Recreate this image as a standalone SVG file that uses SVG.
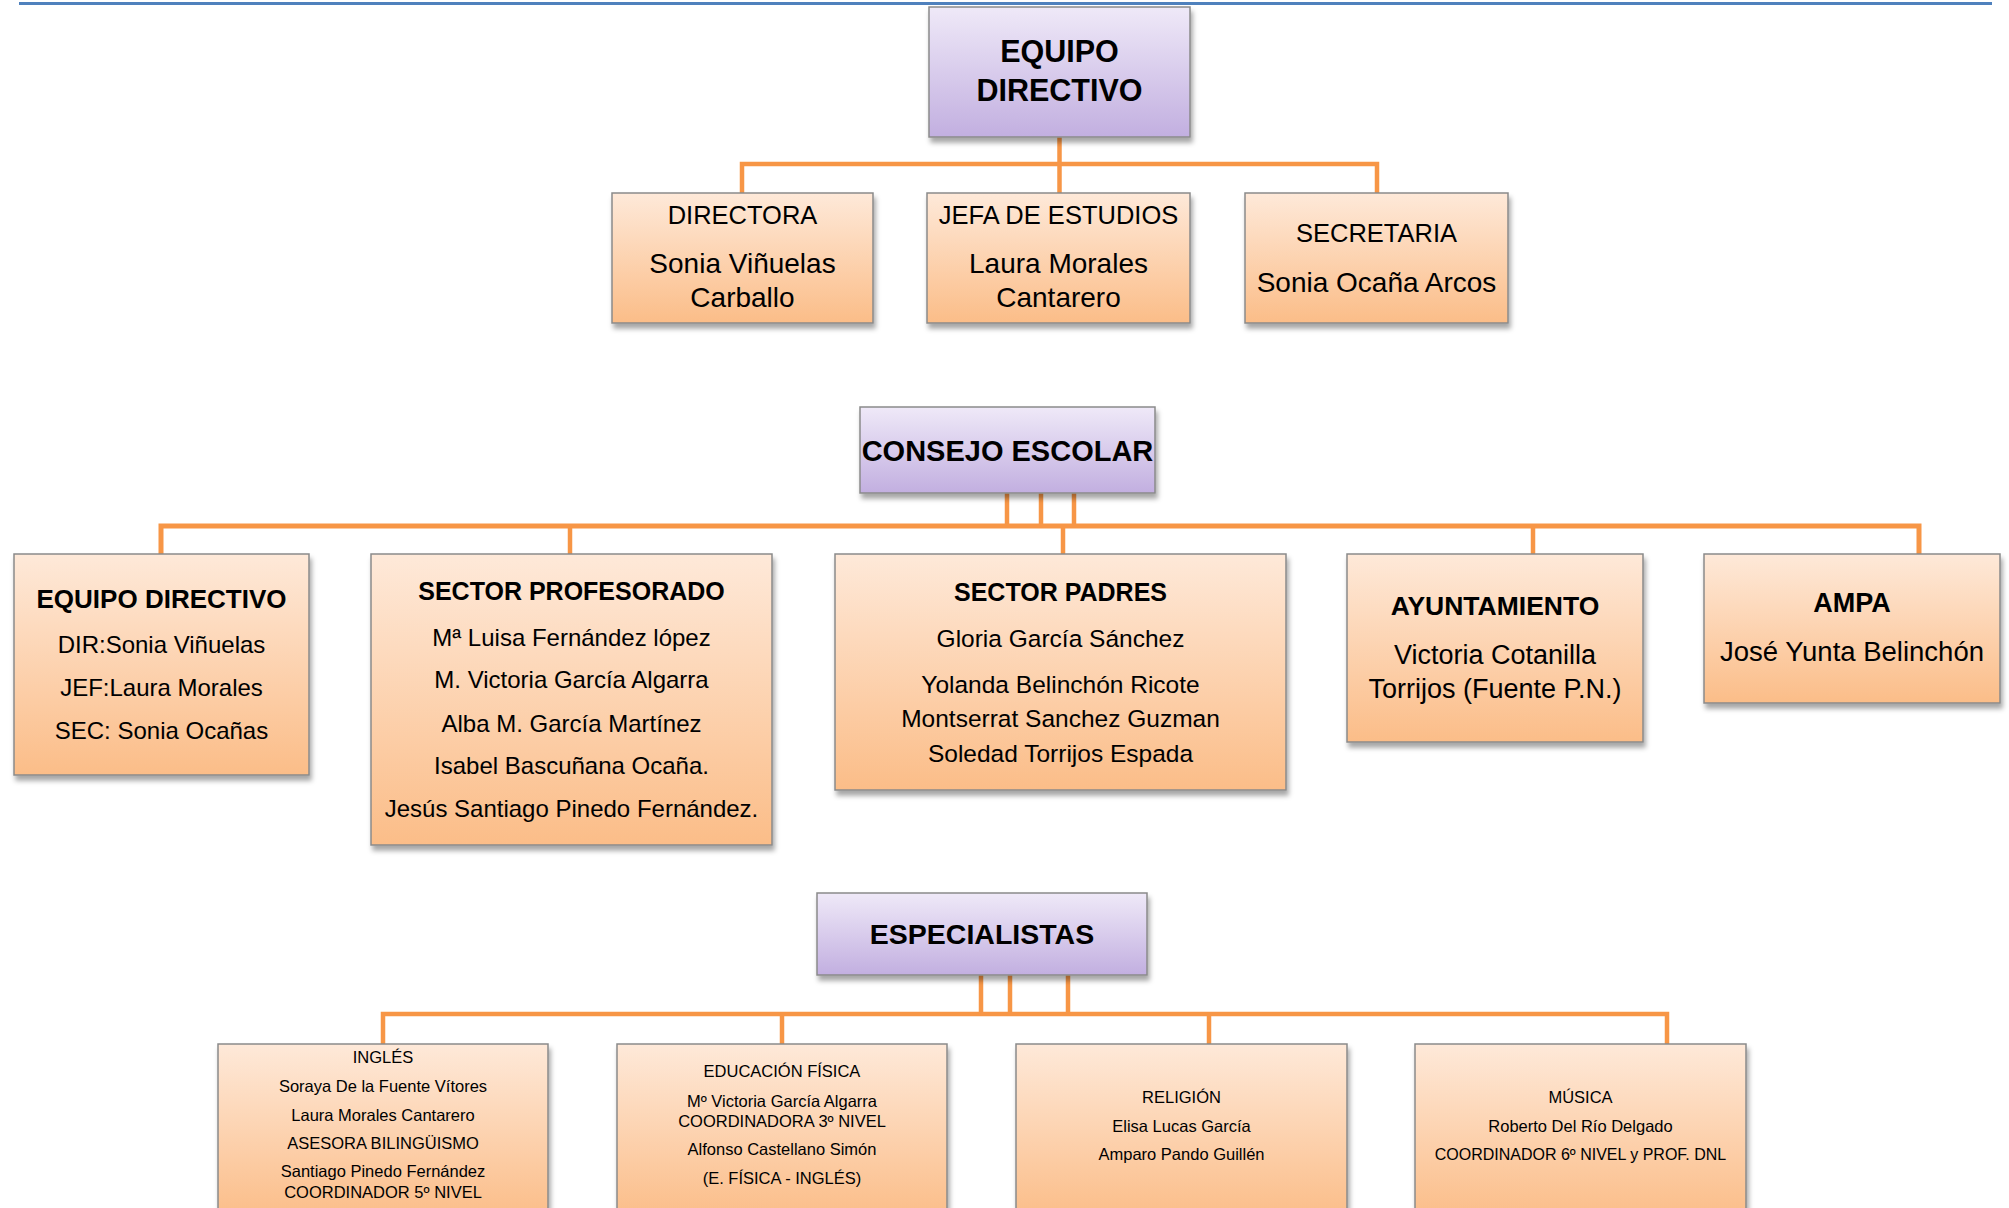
<svg xmlns="http://www.w3.org/2000/svg" width="2009" height="1208" viewBox="0 0 2009 1208">
<style>
  text { font-family: "Liberation Sans", Arial, sans-serif; fill: #000; text-anchor: middle; }
  .b { font-weight: bold; }
  .lav { fill: url(#gLav); stroke: #8a8a8a; stroke-width: 1.5; filter: url(#sh); }
  .org { fill: url(#gOrg); stroke: #8a8a8a; stroke-width: 1.5; filter: url(#sh); }
  .con { fill: none; stroke: #f79646; stroke-width: 4.5; stroke-linejoin: miter; }
</style>
<defs>
  <linearGradient id="gLav" x1="0" y1="0" x2="0" y2="1">
    <stop offset="0" stop-color="#efe9f8"/>
    <stop offset="1" stop-color="#c2afe0"/>
  </linearGradient>
  <linearGradient id="gOrg" x1="0" y1="0" x2="0" y2="1">
    <stop offset="0" stop-color="#fee9d9"/>
    <stop offset="1" stop-color="#fbbd88"/>
  </linearGradient>
  <filter id="sh" x="-10%" y="-10%" width="125%" height="130%">
    <feDropShadow dx="2" dy="5" stdDeviation="2.5" flood-color="#000" flood-opacity="0.35"/>
  </filter>
</defs>
<rect x="0" y="0" width="2009" height="1208" fill="#ffffff"/>
<line x1="19" y1="3.5" x2="1992" y2="3.5" stroke="#4f81bd" stroke-width="3"/>

<g id="connectors">
  <path class="con" d="M1059.5 137 V164"/>
  <path class="con" d="M742 193 V164 H1377 V193"/>
  <path class="con" d="M1059.5 164 V193"/>

  <path class="con" d="M1007 493 V526"/>
  <path class="con" d="M1041 493 V526"/>
  <path class="con" d="M1074 493 V526"/>
  <path class="con" style="stroke-width:5" d="M161 554 V526 H1919 V554"/>
  <path class="con" d="M570 526 V554"/>
  <path class="con" d="M1063 526 V554"/>
  <path class="con" d="M1533 526 V554"/>

  <path class="con" d="M981 975 V1014"/>
  <path class="con" d="M1010 975 V1014"/>
  <path class="con" d="M1068 975 V1014"/>
  <path class="con" d="M383 1044 V1014 H1667 V1044"/>
  <path class="con" d="M782 1014 V1044"/>
  <path class="con" d="M1209 1014 V1044"/>
</g>

<g id="equipo-directivo-top">
  <rect class="lav" x="929" y="7" width="261" height="130"/>
  <text class="b" x="1059.5" y="62" font-size="30.5">EQUIPO</text>
  <text class="b" x="1059.5" y="101" font-size="30.5">DIRECTIVO</text>
</g>
<g id="directora">
  <rect class="org" x="612" y="193" width="261" height="130"/>
  <text x="742.5" y="224" font-size="25.5">DIRECTORA</text>
  <text x="742.5" y="273" font-size="28">Sonia Viñuelas</text>
  <text x="742.5" y="307" font-size="28">Carballo</text>
</g>
<g id="jefa-estudios">
  <rect class="org" x="927" y="193" width="263" height="130"/>
  <text x="1058.5" y="224" font-size="25.5">JEFA DE ESTUDIOS</text>
  <text x="1058.5" y="273" font-size="28">Laura Morales</text>
  <text x="1058.5" y="307" font-size="28">Cantarero</text>
</g>
<g id="secretaria">
  <rect class="org" x="1245" y="193" width="263" height="130"/>
  <text x="1376.5" y="242" font-size="25.5">SECRETARIA</text>
  <text x="1376.5" y="292" font-size="28">Sonia Ocaña Arcos</text>
</g>

<g id="consejo-escolar">
  <rect class="lav" x="860" y="407" width="295" height="86"/>
  <text class="b" x="1007.5" y="461" font-size="29">CONSEJO ESCOLAR</text>
</g>
<g id="cs-equipo-directivo">
  <rect class="org" x="14" y="554" width="295" height="221"/>
  <text class="b" x="161.5" y="608" font-size="26">EQUIPO DIRECTIVO</text>
  <text x="161.5" y="653" font-size="24">DIR:Sonia Viñuelas</text>
  <text x="161.5" y="696" font-size="24">JEF:Laura Morales</text>
  <text x="161.5" y="739" font-size="24">SEC: Sonia Ocañas</text>
</g>
<g id="sector-profesorado">
  <rect class="org" x="371" y="554" width="401" height="291"/>
  <text class="b" x="571.5" y="600" font-size="25">SECTOR PROFESORADO</text>
  <text x="571.5" y="646" font-size="24">Mª Luisa Fernández lópez</text>
  <text x="571.5" y="688" font-size="24">M. Victoria García Algarra</text>
  <text x="571.5" y="732" font-size="24">Alba M. García Martínez</text>
  <text x="571.5" y="774" font-size="24">Isabel Bascuñana Ocaña.</text>
  <text x="571.5" y="817" font-size="24">Jesús Santiago Pinedo Fernández.</text>
</g>
<g id="sector-padres">
  <rect class="org" x="835" y="554" width="451" height="236"/>
  <text class="b" x="1060.5" y="601" font-size="25">SECTOR PADRES</text>
  <text x="1060.5" y="647" font-size="24.5">Gloria García Sánchez</text>
  <text x="1060.5" y="693" font-size="24.5">Yolanda Belinchón Ricote</text>
  <text x="1060.5" y="727" font-size="24.5">Montserrat Sanchez Guzman</text>
  <text x="1060.5" y="762" font-size="24.5">Soledad Torrijos Espada</text>
</g>
<g id="ayuntamiento">
  <rect class="org" x="1347" y="554" width="296" height="188"/>
  <text class="b" x="1495" y="615" font-size="26.5">AYUNTAMIENTO</text>
  <text x="1495" y="664" font-size="27">Victoria Cotanilla</text>
  <text x="1495" y="698" font-size="27">Torrijos (Fuente P.N.)</text>
</g>
<g id="ampa">
  <rect class="org" x="1704" y="554" width="296" height="149"/>
  <text class="b" x="1852" y="612" font-size="27">AMPA</text>
  <text x="1852" y="661" font-size="27.5">José Yunta Belinchón</text>
</g>

<g id="especialistas">
  <rect class="lav" x="817" y="893" width="330" height="82"/>
  <text class="b" x="982" y="944" font-size="28.5">ESPECIALISTAS</text>
</g>
<g id="ingles">
  <rect class="org" x="218" y="1044" width="330" height="175"/>
  <text x="383" y="1063" font-size="16.5">INGLÉS</text>
  <text x="383" y="1092" font-size="16.5">Soraya De la Fuente Vítores</text>
  <text x="383" y="1121" font-size="16.5">Laura Morales Cantarero</text>
  <text x="383" y="1149" font-size="16.5">ASESORA BILINGÜISMO</text>
  <text x="383" y="1177" font-size="16.5">Santiago Pinedo Fernández</text>
  <text x="383" y="1198" font-size="16.5">COORDINADOR 5º NIVEL</text>
</g>
<g id="educacion-fisica">
  <rect class="org" x="617" y="1044" width="330" height="175"/>
  <text x="782" y="1077" font-size="16.5">EDUCACIÓN FÍSICA</text>
  <text x="782" y="1107" font-size="16.5">Mº Victoria García Algarra</text>
  <text x="782" y="1127" font-size="16.5">COORDINADORA 3º NIVEL</text>
  <text x="782" y="1155" font-size="16.5">Alfonso Castellano Simón</text>
  <text x="782" y="1184" font-size="16.5">(E. FÍSICA - INGLÉS)</text>
</g>
<g id="religion">
  <rect class="org" x="1016" y="1044" width="331" height="175"/>
  <text x="1181.5" y="1103" font-size="16.5">RELIGIÓN</text>
  <text x="1181.5" y="1132" font-size="16.5">Elisa Lucas García</text>
  <text x="1181.5" y="1160" font-size="16.5">Amparo Pando Guillén</text>
</g>
<g id="musica">
  <rect class="org" x="1415" y="1044" width="331" height="175"/>
  <text x="1580.5" y="1103" font-size="16.5">MÚSICA</text>
  <text x="1580.5" y="1132" font-size="16.5">Roberto Del Río Delgado</text>
  <text x="1580.5" y="1160" font-size="16">COORDINADOR 6º NIVEL y PROF. DNL</text>
</g>
</svg>
